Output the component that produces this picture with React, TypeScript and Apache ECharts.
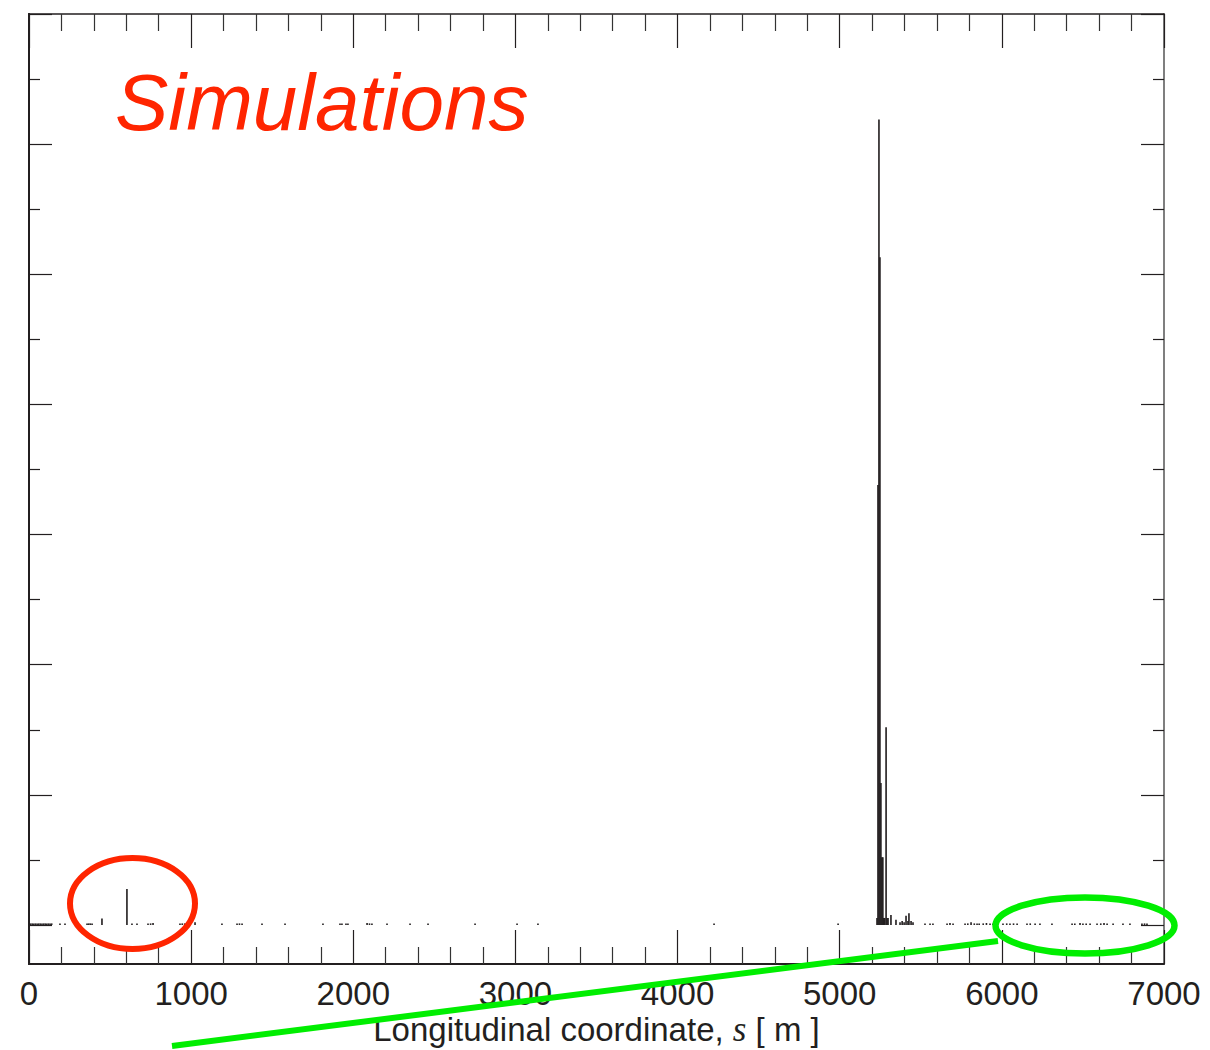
import React, { useEffect, useRef } from "react";
import * as echarts from "echarts";

// Longitudinal positions (m) of the histogram bins and their (arbitrary-unit) heights
const binS = [
  10, 20, 30, 40, 50, 60, 70, 80, 90, 100, 110, 120, 130, 140,
  191, 222, 358, 368, 378, 389, 450, 604, 635, 666, 734, 750, 765,
  931, 945, 960, 974, 1024, 1190, 1283, 1298, 1314, 1437, 1579, 1813,
  1918, 1930, 1955, 1967, 2085, 2100, 2115, 2208, 2350, 2461, 2751,
  3010, 3139, 4225, 4990,
  5230, 5236, 5242, 5248, 5254, 5260, 5266, 5272, 5278, 5286, 5292, 5298,
  5316, 5347, 5372, 5385, 5397, 5409, 5421, 5427, 5440, 5452,
  5526, 5557, 5575, 5662, 5680, 5699, 5773, 5790, 5810, 5830, 5847,
  5860, 5885, 5905, 5927, 5945, 6007, 6030, 6050, 6072, 6094,
  6155, 6175, 6205, 6235, 6309, 6433, 6450, 6482, 6500, 6520, 6544,
  6587, 6610, 6630, 6649, 6686, 6747, 6790, 6864, 6880, 6895,
];
const binV = [
  0.012, 0.012, 0.012, 0.012, 0.012, 0.012, 0.012, 0.012, 0.012, 0.012, 0.012, 0.012, 0.012, 0.012,
  0.012, 0.012, 0.012, 0.012, 0.012, 0.012, 0.05, 0.277, 0.012, 0.012, 0.012, 0.012, 0.015,
  0.012, 0.012, 0.012, 0.015, 0.02, 0.012, 0.012, 0.012, 0.012, 0.012, 0.012, 0.012,
  0.012, 0.012, 0.012, 0.012, 0.015, 0.012, 0.012, 0.012, 0.012, 0.012, 0.012,
  0.012, 0.012, 0.012, 0.012,
  0.054, 3.38, 6.19, 5.13, 1.09, 0.52, 0.52, 0.054, 0.054, 1.52, 0.054, 0.054,
  0.077, 0.04, 0.02, 0.03, 0.02, 0.07, 0.03, 0.09, 0.03, 0.02,
  0.012, 0.012, 0.012, 0.012, 0.015, 0.012, 0.012, 0.012, 0.02, 0.012, 0.012,
  0.012, 0.012, 0.015, 0.012, 0.012, 0.012, 0.012, 0.012, 0.012, 0.012,
  0.012, 0.012, 0.012, 0.012, 0.012, 0.012, 0.012, 0.015, 0.012, 0.012, 0.012,
  0.012, 0.012, 0.015, 0.012, 0.012, 0.012, 0.012, 0.012, 0.012, 0.012,
];

const xMin = 0;
const xMax = 7000;
const xStep = 1000;
const yMin = -0.3;
const yMax = 7;
const yMajorTicks = [0, 1, 2, 3, 4, 5, 6, 7];
const yMinorTicks = [0.5, 1.5, 2.5, 3.5, 4.5, 5.5, 6.5];

const BIN = 10;
const INK = "#231f20";
const FONT = "Liberation Sans";

export default function App() {
  const ref = useRef<HTMLDivElement>(null);

  useEffect(() => {
    document.body.style.margin = "0";
    if (!ref.current) return;
    const chart = echarts.init(ref.current, undefined, { renderer: "svg" });

    const xBase = {
      type: "value",
      min: xMin,
      max: xMax,
      interval: xStep,
      splitLine: { show: false },
      minorSplitLine: { show: false },
      axisTick: { show: true, inside: true, length: 34, lineStyle: { color: INK, width: 1.2 } },
      minorTick: { show: true, splitNumber: 5, length: 17, lineStyle: { color: "#333", width: 1.2 } },
    };

    const yAxis = (pos: string, ticks: number[], len: number, lineColor: string, lineWidth: number) => ({
      type: "value",
      min: yMin,
      max: yMax,
      position: pos,
      splitLine: { show: false },
      axisLine: { show: true, onZero: false, lineStyle: { color: lineColor, width: lineWidth } },
      axisTick: { show: true, inside: true, length: len, customValues: ticks, lineStyle: { color: INK, width: 1.2 } },
      axisLabel: { show: false, customValues: ticks },
    });

    const data = binS.map((s, i) => [s, binV[i]]);

    chart.setOption({
      animation: false,
      backgroundColor: "#ffffff",
      grid: { left: 29, right: 46, top: 14, bottom: 86, containLabel: false, outerBoundsMode: "none" },
      xAxis: [
        {
          ...xBase,
          position: "bottom",
          axisLine: { show: true, onZero: false, lineStyle: { color: INK, width: 2 } },
          axisLabel: {
            show: true,
            fontSize: 33,
            lineHeight: 32,
            color: INK,
            fontFamily: FONT,
            margin: 13,
            showMinLabel: true,
            showMaxLabel: true,
            formatter: (v: number) => String(v),
          },
          name: "Longitudinal coordinate, {i|s} [ m ]",
          nameLocation: "middle",
          nameGap: 49,
          nameMoveOverlap: false,
          nameTextStyle: {
            fontSize: 33,
            lineHeight: 33,
            color: INK,
            fontFamily: FONT,
            rich: {
              i: { fontSize: 35, lineHeight: 33, fontFamily: "Liberation Serif", fontStyle: "italic", color: INK },
            },
          },
        },
        {
          ...xBase,
          position: "top",
          axisLine: { show: true, onZero: false, lineStyle: { color: INK, width: 1.5 } },
          axisLabel: { show: false },
        },
      ],
      yAxis: [
        yAxis("left", yMajorTicks, 23, INK, 2),
        yAxis("left", yMinorTicks, 11, INK, 2),
        yAxis("right", yMajorTicks, 23, "#777", 1.5),
        yAxis("right", yMinorTicks, 11, "#777", 1.5),
      ],
      series: [
        {
          type: "custom",
          xAxisIndex: 0,
          yAxisIndex: 0,
          encode: { x: 0, y: 1 },
          data,
          renderItem: (_params: any, api: any) => {
            const s = api.value(0);
            const v = api.value(1);
            const p0 = api.coord([s - BIN / 2, 0]);
            const p1 = api.coord([s + BIN / 2, v]);
            const w = Math.max(p1[0] - p0[0], 1.2);
            return {
              type: "rect",
              shape: { x: p0[0], y: p1[1], width: w, height: p0[1] - p1[1] },
              style: { fill: INK },
            };
          },
        },
      ],
      graphic: [
        {
          type: "text",
          x: 115,
          y: 102,
          z: 100,
          style: {
            text: "Simulations",
            fill: "#ff2500",
            font: `italic 80px "${FONT}"`,
            align: "left",
            verticalAlign: "middle",
          },
        },
        {
          type: "ellipse",
          z: 100,
          shape: { cx: 132.5, cy: 903.5, rx: 62.5, ry: 45.5 },
          style: { fill: "none", stroke: "#ff2500", lineWidth: 6 },
        },
        {
          type: "ellipse",
          z: 100,
          shape: { cx: 1085, cy: 925.5, rx: 89.5, ry: 28 },
          style: { fill: "none", stroke: "#00ee00", lineWidth: 6.5 },
        },
        {
          type: "line",
          z: 100,
          shape: { x1: 172, y1: 1046, x2: 998, y2: 941 },
          style: { stroke: "#00ee00", lineWidth: 6 },
        },
      ],
    });

    return () => chart.dispose();
  }, []);

  return <div ref={ref} style={{ width: 1210, height: 1050 }} />;
}
